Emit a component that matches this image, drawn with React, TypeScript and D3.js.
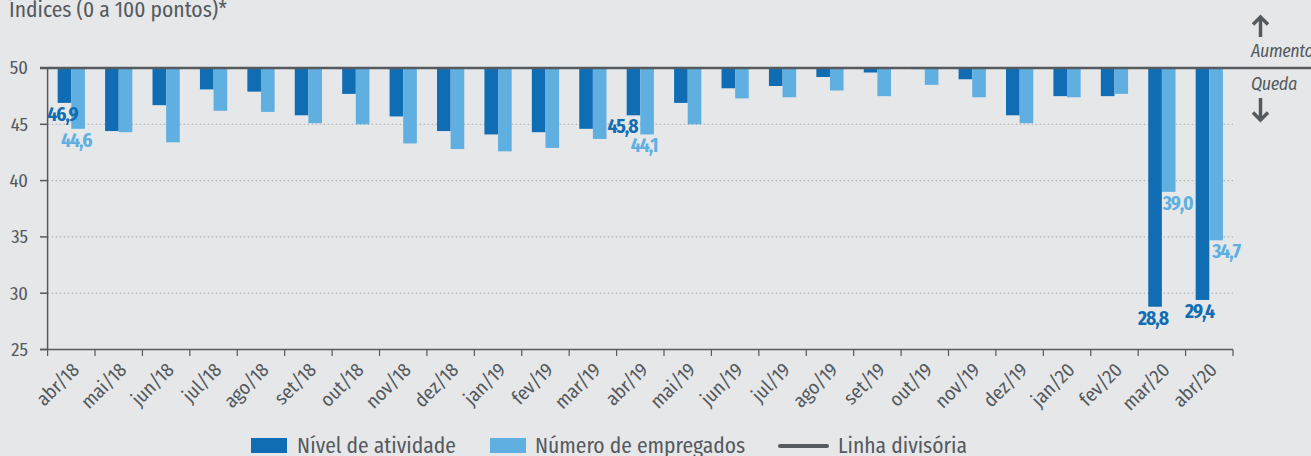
import React from 'react';
import { scaleBand, scaleLinear } from 'd3';

const months = [
  'abr/18', 'mai/18', 'jun/18', 'jul/18', 'ago/18', 'set/18', 'out/18', 'nov/18', 'dez/18',
  'jan/19', 'fev/19', 'mar/19', 'abr/19', 'mai/19', 'jun/19', 'jul/19', 'ago/19', 'set/19',
  'out/19', 'nov/19', 'dez/19', 'jan/20', 'fev/20', 'mar/20', 'abr/20',
];
const atividade = [
  46.9, 44.4, 46.7, 48.1, 47.9, 45.8, 47.7, 45.7, 44.4, 44.1, 44.3, 44.6, 45.8,
  46.9, 48.2, 48.4, 49.2, 49.6, 49.9, 49.0, 45.8, 47.5, 47.5, 28.8, 29.4,
];
const empregados = [
  44.6, 44.3, 43.4, 46.2, 46.1, 45.1, 45.0, 43.3, 42.8, 42.6, 42.9, 43.7, 44.1,
  45.0, 47.3, 47.4, 48.0, 47.5, 48.5, 47.4, 45.1, 47.4, 47.7, 39.0, 34.7,
];
const yTicks = [25, 30, 35, 40, 45, 50];
const seriesKeys = ['atividade', 'empregados'];
const seriesNames = ['Nível de atividade', 'Número de empregados'];
// labelled bars: month index, series, horizontal nudge
const labelled = [
  { i: 0, s: 'atividade', dx: -2 },
  { i: 0, s: 'empregados', dx: -2 },
  { i: 12, s: 'atividade', dx: -11 },
  { i: 12, s: 'empregados', dx: -3 },
  { i: 23, s: 'atividade', dx: -2 },
  { i: 23, s: 'empregados', dx: 9 },
  { i: 24, s: 'atividade', dx: -3 },
  { i: 24, s: 'empregados', dx: 10 },
];

const DARK = '#106db3';
const LIGHT = '#60afe1';
const INK = '#555a5e';
const FONT = '"Fira Sans Condensed", Roboto, "Noto Sans", sans-serif';

export default function App() {
  const W = 1311;
  const H = 456;
  const x = scaleBand().domain(months).range([47.6, 1233]);
  const x1 = scaleBand().domain(seriesKeys).range([0, x.bandwidth()]).paddingOuter(0.74);
  const y = scaleLinear().domain([25, 50]).range([349.5, 68]);
  const vals: Record<string, number[]> = { atividade, empregados };
  const colors: Record<string, string> = { atividade: DARK, empregados: LIGHT };
  const fmt = (v: number) => v.toFixed(1).replace('.', ',');

  return (
    <svg width={W} height={H} style={{ position: 'absolute', left: 0, top: 0, background: '#e6e7e9' }} fontFamily={FONT}>
      <rect width={W} height={H} fill="#e6e7e9" />
      <text x={9} y={17} fontSize={21.5} fill={INK}>Índices (0 a 100 pontos)*</text>

      {/* grid */}
      {yTicks.filter((t) => t !== 25 && t !== 50).map((t) => (
        <line key={t} x1={47.6} x2={1233} y1={y(t)} y2={y(t)} stroke="#a9abad" strokeWidth={1} strokeDasharray="1.5 2.5" />
      ))}

      {/* bars */}
      {seriesKeys.map((k) =>
        vals[k].map((v, i) => (
          <rect key={k + i} x={(x(months[i]) ?? 0) + (x1(k) ?? 0)} y={y(50)} width={x1.bandwidth()}
            height={y(v) - y(50)} fill={colors[k]} />
        ))
      )}

      {/* value labels */}
      {labelled.map((l, j) => {
        const v = vals[l.s][l.i];
        const cx = (x(months[l.i]) ?? 0) + (x1(l.s) ?? 0) + x1.bandwidth() / 2 + l.dx;
        return (
          <text key={j} x={cx} y={y(v) + 18} textAnchor="middle" fontSize={19.5} fontWeight={700}
            letterSpacing={-1} fill={colors[l.s]}>{fmt(v)}</text>
        );
      })}

      {/* y axis */}
      <line x1={47.6} x2={47.6} y1={68} y2={349.5} stroke={INK} strokeWidth={1.5} />
      {yTicks.map((t) => (
        <g key={t}>
          <line x1={40} x2={47.6} y1={y(t)} y2={y(t)} stroke={INK} strokeWidth={1.5} />
          <text x={28} y={y(t)} dy="0.35em" textAnchor="end" fontSize={18.5} fill={INK}>{t}</text>
        </g>
      ))}

      {/* x axis */}
      <line x1={40} x2={1233} y1={349.5} y2={349.5} stroke={INK} strokeWidth={1.5} />
      {[...months.map((m) => x(m) ?? 0), 1233].map((px, i) => (
        <line key={i} x1={px} x2={px} y1={349.5} y2={356} stroke={INK} strokeWidth={1.2} />
      ))}
      {months.map((m) => {
        const cx = (x(m) ?? 0) + x.bandwidth() / 2 + 9;
        return (
          <text key={m} transform={`translate(${cx},${371}) rotate(-45)`} textAnchor="end"
            fontSize={19.5} fill={INK}>{m}</text>
        );
      })}

      {/* divider line at 50 */}
      <line x1={40} x2={W} y1={y(50)} y2={y(50)} stroke={INK} strokeWidth={2.5} />

      {/* right annotations */}
      <g stroke={INK} strokeWidth={3.5} fill="none" strokeLinecap="butt" strokeLinejoin="miter">
        <line x1={1260.5} x2={1260.5} y1={18} y2={37} />
        <path d="M1253,24.5 L1260.5,17 L1268,24.5" />
        <line x1={1260.5} x2={1260.5} y1={98} y2={118} />
        <path d="M1253,112.5 L1260.5,120 L1268,112.5" />
      </g>
      <text x={1251} y={57} fontSize={18} letterSpacing={-0.4} fontStyle="italic" fill={INK}>Aumento</text>
      <text x={1251} y={90} fontSize={18} letterSpacing={-0.4} fontStyle="italic" fill={INK}>Queda</text>

      {/* legend */}
      <rect x={251} y={438} width={36} height={15} fill={DARK} />
      <text x={297} y={453} fontSize={21.5} fill={INK}>{seriesNames[0]}</text>
      <rect x={490} y={438} width={36} height={15} fill={LIGHT} />
      <text x={535} y={453} fontSize={21.5} fill={INK}>{seriesNames[1]}</text>
      <line x1={780} x2={827} y1={446} y2={446} stroke={INK} strokeWidth={4} strokeLinecap="round" />
      <text x={838} y={453} fontSize={21.5} fill={INK}>Linha divisória</text>
    </svg>
  );
}
